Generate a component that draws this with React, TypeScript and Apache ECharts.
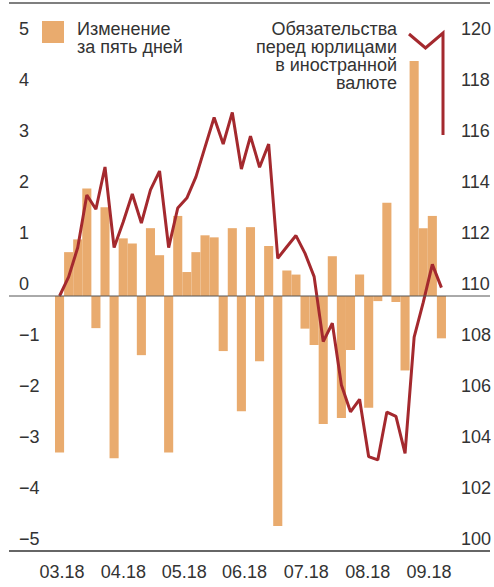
import React, { useEffect, useRef } from "react";
import * as echarts from "echarts";

// five-day change (left axis)
const categories: string[] = Array.from({ length: 43 }, (_, i) => String(i + 1));
const changeValues: number[] = [
  -3.07, 0.86, 1.11, 2.11, -0.63, 1.74, -3.18, 1.13, 1.03, -1.16, 1.33,
  0.8, -3.07, 1.57, 0.47, 0.86, 1.19, 1.15, -1.08, 1.33, -2.26, 1.35, -1.28,
  0.98, -4.51, 0.5, 0.42, -0.64, -0.96, -2.51, 0.78, -2.39, -1.06, 0.42,
  -2.19, -0.1, 1.83, -0.12, -1.46, 4.61, 1.33, 1.57, -0.83,
];
// liabilities to legal entities in foreign currency (right axis)
const liabilityValues: number[] = [
  110.0, 110.75, 111.9, 113.96, 113.4, 115.06, 111.9, 112.9, 114.0, 112.86,
  114.16, 114.9, 111.9, 113.45, 113.84, 114.67, 115.84, 117.0, 115.96, 117.2,
  114.98, 116.27, 115.05, 115.96, 111.48, 111.93, 112.37, 111.67, 110.76,
  108.21, 108.93, 106.51, 105.46, 105.95, 103.7, 103.57, 105.45, 105.28,
  103.83, 108.39, 109.75, 111.24, 110.33,
];
const monthLabels: string[] = ["03.18", "04.18", "05.18", "06.18", "07.18", "08.18", "09.18"];
const monthTickPos: number[] = [0.27, 7.02, 13.71, 20.34, 27.14, 33.89, 40.63];

const barLegendLines: string[] = ["Изменение", "за пять дней"];
const lineLegendLines: string[] = ["Обязательства", "перед юрлицами", "в иностранной", "валюте"];

const FONT = "'Liberation Sans Narrow', 'Arial Narrow', 'Liberation Sans', sans-serif";
const TEXT = "#333333";
const BAR = "#E9AB6E";
const LINE = "#A4292E";

const fmtLeft = (v: number) => (v < 0 ? "\u2212" + Math.abs(v) : String(v));

export default function App() {
  const ref = useRef<HTMLDivElement>(null);
  useEffect(() => {
    document.body.style.margin = "0";
    const chart = echarts.init(ref.current!, null, { renderer: "svg" });
    const option: any = {
      animation: false,
      grid: { left: 55, right: 47, top: 41, bottom: 36 },
      xAxis: [
        {
          type: "category",
          data: categories,
          boundaryGap: true,
          axisLine: { show: false },
          axisTick: { show: false },
          axisLabel: { show: false },
          splitLine: { show: false },
        },
        {
          type: "value",
          min: -0.5,
          max: 42.5,
          position: "bottom",
          axisLine: { show: false },
          axisTick: { show: false },
          splitLine: { show: false },
          axisLabel: {
            customValues: monthTickPos,
            formatter: (v: number) => {
              const i = monthTickPos.findIndex((p) => Math.abs(p - v) < 1e-6);
              return i >= 0 ? monthLabels[i] : "";
            },
            margin: 12,
            fontFamily: FONT,
            fontSize: 18,
            color: TEXT,
          },
        },
      ],
      yAxis: [
        {
          type: "value",
          min: -5,
          max: 5,
          interval: 1,
          position: "left",
          axisLine: { show: false },
          axisTick: { show: false },
          splitLine: { show: false },
          axisLabel: {
            formatter: fmtLeft,
            align: "left",
            verticalAlign: "bottom",
            padding: [0, 0, 3, 0],
            margin: 36,
            fontFamily: FONT,
            fontSize: 18,
            color: TEXT,
          },
        },
        {
          type: "value",
          min: 100,
          max: 120,
          interval: 2,
          position: "right",
          axisLine: { show: false },
          axisTick: { show: false },
          splitLine: { show: false },
          axisLabel: {
            align: "left",
            verticalAlign: "bottom",
            padding: [0, 0, 3, 0],
            margin: 15,
            fontFamily: FONT,
            fontSize: 18,
            color: TEXT,
          },
        },
      ],
      series: [
        {
          type: "bar",
          xAxisIndex: 0,
          yAxisIndex: 0,
          data: changeValues,
          barCategoryGap: "0%",
          itemStyle: { color: BAR },
          z: 2,
        },
        {
          type: "line",
          xAxisIndex: 0,
          yAxisIndex: 1,
          data: liabilityValues,
          showSymbol: false,
          symbol: "none",
          lineStyle: { color: LINE, width: 3 },
          z: 3,
        },
      ],
    };
    chart.setOption(option);

    const zeroY = chart.convertToPixel({ yAxisIndex: 0 }, 0) as number;
    const bottomY = chart.convertToPixel({ yAxisIndex: 0 }, -5) as number;
    const lineStep = 18.3;
    const legendTexts: any[] = [
      ...barLegendLines.map((t, i) => ({
        type: "text",
        x: 77,
        y: 20 + i * lineStep,
        style: { text: t, font: `18px ${FONT}`, fill: TEXT, align: "left", verticalAlign: "top" },
        z: 10,
      })),
      ...lineLegendLines.map((t, i) => ({
        type: "text",
        x: 397,
        y: 19.5 + i * lineStep,
        style: { text: t, font: `18px ${FONT}`, fill: TEXT, align: "right", verticalAlign: "top" },
        z: 10,
      })),
    ];
    chart.setOption({
      graphic: [
        { type: "line", shape: { x1: 9, y1: 3, x2: 490, y2: 3 }, style: { stroke: "#555", lineWidth: 1.5 }, z: 10 },
        { type: "line", shape: { x1: 9, y1: zeroY, x2: 490, y2: zeroY }, style: { stroke: "#555", lineWidth: 1 }, z: 10 },
        { type: "line", shape: { x1: 9, y1: bottomY, x2: 490, y2: bottomY }, style: { stroke: "#333", lineWidth: 1.5 }, z: 10 },
        { type: "rect", shape: { x: 42, y: 21, width: 22, height: 22 }, style: { fill: BAR }, z: 10 },
        ...legendTexts,
        {
          type: "polyline",
          shape: { points: [[409, 34], [425.5, 48], [443, 33], [443, 135]] },
          style: { stroke: LINE, lineWidth: 3, fill: "none" },
          z: 10,
        },
      ],
    });
    return () => chart.dispose();
  }, []);
  return <div ref={ref} style={{ width: 494, height: 587 }} />;
}
